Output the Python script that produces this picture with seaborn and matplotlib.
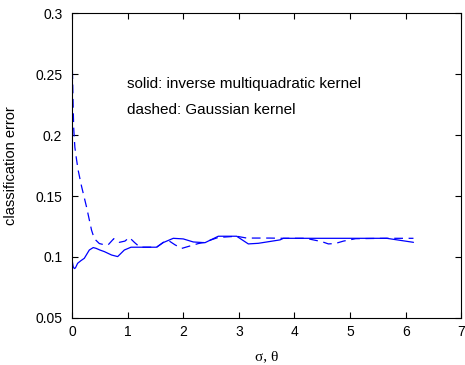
import matplotlib
matplotlib.use("Agg")
import matplotlib.pyplot as plt
import seaborn as sns
import numpy as np

# sigma / theta values and classification error
sigma_solid = [0.0, 0.02, 0.04, 0.06, 0.10, 0.16, 0.22, 0.31, 0.38, 0.43, 0.50,
               0.58, 0.71, 0.82, 0.94, 1.06, 1.22, 1.52, 1.64, 1.82, 2.00, 2.18,
               2.39, 2.63, 2.96, 3.17, 3.35, 3.74, 3.80, 5.66, 6.14]
err_solid = [0.0975, 0.0920, 0.0905, 0.0910, 0.0948, 0.0970, 0.0989, 0.1057,
             0.1077, 0.1071, 0.1057, 0.1044, 0.1016, 0.1003, 0.1057, 0.1080,
             0.1080, 0.1080, 0.1118, 0.1153, 0.1148, 0.1123, 0.1117, 0.1170,
             0.1170, 0.1107, 0.1112, 0.1140, 0.1153, 0.1153, 0.1120]

theta_dashed = [0.0, 0.01, 0.02, 0.03, 0.05, 0.08, 0.11, 0.17, 0.26, 0.35, 0.40,
                0.49, 0.58, 0.65, 0.75, 0.85, 0.95, 1.03, 1.12, 1.22, 1.52, 1.64,
                1.75, 1.85, 1.97, 2.12, 2.27, 2.39, 2.50, 2.63, 2.96, 3.14, 3.35,
                3.55, 3.80, 4.20, 4.49, 4.61, 4.73, 4.88, 5.10, 5.66, 6.14]
err_dashed = [0.265, 0.245, 0.222, 0.205, 0.190, 0.180, 0.171, 0.158, 0.141,
              0.122, 0.115, 0.111, 0.110, 0.110, 0.115, 0.112, 0.113, 0.116,
              0.112, 0.108, 0.108, 0.112, 0.113, 0.110, 0.107, 0.109, 0.111,
              0.112, 0.114, 0.116, 0.117, 0.1155, 0.1155, 0.1155, 0.1153,
              0.1153, 0.1126, 0.1107, 0.111, 0.113, 0.115, 0.1153, 0.1153]

sns.set_style("white")
plt.rcParams['font.family'] = ['Liberation Sans', 'DejaVu Sans']
plt.rcParams['text.color'] = 'black'
plt.rcParams['axes.labelcolor'] = 'black'

fig = plt.figure(figsize=(4.65, 3.65), dpi=100)
ax = fig.add_axes([0.155, 0.129, 0.837, 0.835])

sns.lineplot(x=sigma_solid, y=err_solid, ax=ax, color='#0000ff', linewidth=0.9)
sns.lineplot(x=theta_dashed, y=err_dashed, ax=ax, color='#0000ff', linewidth=0.9)
ax.lines[-1].set_linestyle((0, (7, 4.5)))

ax.set_xlim(0, 7)
ax.set_ylim(0.05, 0.3)
ax.set_xticks(range(0, 8))
ax.set_yticks([0.05, 0.1, 0.15, 0.2, 0.25, 0.3])
ax.set_yticklabels(['0.05', '0.1', '0.15', '0.2', '0.25', '0.3'])
ax.tick_params(direction='in', length=4, width=0.8, labelsize=10,
               top=True, right=True, bottom=True, left=True, colors='black')
ax.tick_params(axis='y', pad=7)
ax.tick_params(axis='x', pad=5)
for s in ax.spines.values():
    s.set_color('black')
    s.set_linewidth(0.8)

ax.text(0.99, 0.2385, 'solid: inverse multiquadratic kernel', fontsize=11,
        va='baseline')
ax.text(0.99, 0.2172, 'dashed: Gaussian kernel', fontsize=11, va='baseline')

ax.set_xlabel('σ, θ', fontsize=11, family=['Liberation Serif', 'DejaVu Serif'])
ax.set_ylabel('classification error', fontsize=10.5)
ax.yaxis.set_label_coords(-0.139, 0.5)
ax.xaxis.set_label_coords(0.5, -0.105)

fig.savefig('out.png', dpi=100)
